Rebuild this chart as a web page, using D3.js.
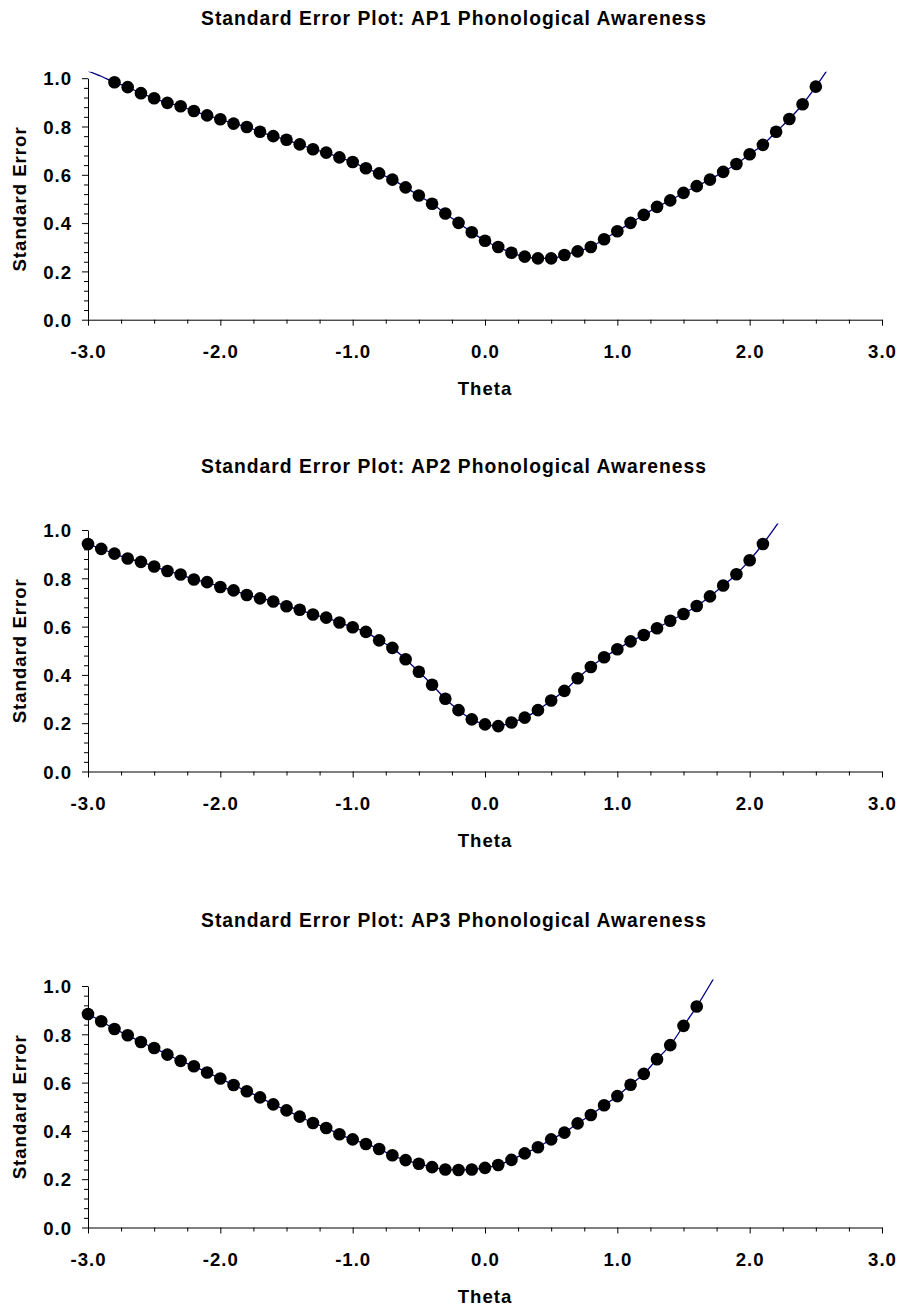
<!DOCTYPE html>
<html>
<head>
<meta charset="utf-8">
<script src="https://cdn.jsdelivr.net/npm/d3@7"></script>
<style>
  body { margin: 0; background: #fff; }
  svg text { font-family: "Liberation Sans", Arial, sans-serif; font-weight: bold; fill: #000; }
</style>
</head>
<body>
<div id="container"></div>
<script>
//data
const theta = [-3.0, -2.9, -2.8, -2.7, -2.6, -2.5, -2.4, -2.3, -2.2, -2.1,
    -2.0, -1.9, -1.8, -1.7, -1.6, -1.5, -1.4, -1.3, -1.2, -1.1,
    -1.0, -0.9, -0.8, -0.7, -0.6, -0.5, -0.4, -0.3, -0.2, -0.1,
    0.0, 0.1, 0.2, 0.3, 0.4, 0.5, 0.6, 0.7, 0.8, 0.9,
    1.0, 1.1, 1.2, 1.3, 1.4, 1.5, 1.6, 1.7, 1.8, 1.9,
    2.0, 2.1, 2.2, 2.3, 2.4, 2.5, 2.6]

const seAP1 = [1.030, 1.008, 0.983, 0.963, 0.938, 0.917, 0.898, 0.884, 0.864, 0.846,
    0.830, 0.812, 0.798, 0.778, 0.760, 0.745, 0.726, 0.706, 0.692, 0.672,
    0.653, 0.627, 0.606, 0.580, 0.548, 0.514, 0.480, 0.440, 0.401, 0.362,
    0.327, 0.301, 0.277, 0.261, 0.254, 0.254, 0.268, 0.283, 0.301, 0.333,
    0.366, 0.401, 0.434, 0.467, 0.494, 0.525, 0.553, 0.580, 0.612, 0.645,
    0.685, 0.724, 0.778, 0.831, 0.892, 0.965, 1.045]

const seAP2 = [0.942, 0.922, 0.902, 0.882, 0.868, 0.849, 0.830, 0.816, 0.795, 0.784,
    0.764, 0.750, 0.731, 0.717, 0.704, 0.684, 0.670, 0.650, 0.637, 0.617,
    0.597, 0.578, 0.543, 0.512, 0.465, 0.413, 0.359, 0.301, 0.254, 0.216,
    0.195, 0.188, 0.203, 0.223, 0.254, 0.294, 0.334, 0.386, 0.433, 0.473,
    0.506, 0.539, 0.565, 0.593, 0.624, 0.652, 0.685, 0.725, 0.770, 0.817,
    0.875, 0.942, 1.017, 1.100]

const seAP3 = [0.884, 0.854, 0.822, 0.796, 0.768, 0.743, 0.716, 0.690, 0.668, 0.642,
    0.617, 0.590, 0.564, 0.539, 0.510, 0.485, 0.459, 0.433, 0.412, 0.386,
    0.365, 0.346, 0.325, 0.299, 0.279, 0.264, 0.250, 0.240, 0.238, 0.240,
    0.247, 0.259, 0.280, 0.307, 0.332, 0.365, 0.393, 0.431, 0.466, 0.506,
    0.544, 0.591, 0.636, 0.697, 0.755, 0.835, 0.915, 1.005, 1.100]

const panelTitles = ["Standard Error Plot: AP1 Phonological Awareness",
    "Standard Error Plot: AP2 Phonological Awareness",
    "Standard Error Plot: AP3 Phonological Awareness"]
const panelSeries = [seAP1, seAP2, seAP3]

const xTicks = [-3, -2, -1, 0, 1, 2, 3]
const yTicks = [0, 0.2, 0.4, 0.6, 0.8, 1.0]
const xLabel = "Theta"
const yLabel = "Standard Error"

//layout
const width = 901, height = 1310
const left = 88, right = 882, plotH = 241.5
const panelTops = [78.2, 530, 986]
const titleBase = [24.5, 473, 927]

const svg = d3.select("#container")
    .append("svg")
    .attr("width", width)
    .attr("height", height)
    .attr("viewBox", [0, 0, width, height])

const x = d3.scaleLinear().domain([-3, 3]).range([left, right])
const y = d3.scaleLinear().domain([0, 1]).range([plotH, 0])
const fmt = d => d.toFixed(1)   // plain hyphen, not d3's unicode minus

const xMinor = d3.range(-3, 3.001, 0.25).filter(v => Math.abs(v - Math.round(v)) > 1e-6)
const yMinor = d3.range(0, 1.001, 0.04).filter(v => Math.abs(v * 5 - Math.round(v * 5)) > 1e-6)

function drawPanel(i){
    const g = svg.append("g")
        .attr("class", "panel")
        .attr("transform", `translate(0,${panelTops[i]})`)

    const rows = panelSeries[i].map((v, k) => ({t: theta[k], se: v}))

    svg.append("text")
        .attr("x", 454)
        .attr("y", titleBase[i])
        .attr("text-anchor", "middle")
        .style("font-size", "19.3px")
        .style("letter-spacing", "1px")
        .text(panelTitles[i])

    g.append("clipPath")
        .attr("id", "clip" + i)
        .append("rect")
        .attr("x", left)
        .attr("y", -6.5)
        .attr("width", right - left)
        .attr("height", plotH + 6.5)

    //minor ticks first, majors drawn on top
    g.append("g")
        .attr("transform", `translate(0,${plotH})`)
        .call(d3.axisBottom(x).tickValues(xMinor).tickSize(4).tickFormat(""))
        .call(a => a.select(".domain").remove())
    g.append("g")
        .attr("transform", `translate(${left},0)`)
        .call(d3.axisLeft(y).tickValues(yMinor).tickSize(4).tickFormat(""))
        .call(a => a.select(".domain").remove())

    const xAxis = g.append("g")
        .attr("transform", `translate(0,${plotH})`)
        .call(d3.axisBottom(x).tickValues(xTicks).tickSize(6).tickSizeOuter(0)
            .tickPadding(19.5).tickFormat(fmt))
    const yAxis = g.append("g")
        .attr("transform", `translate(${left},0)`)
        .call(d3.axisLeft(y).tickValues(yTicks).tickSize(6).tickSizeOuter(0)
            .tickPadding(10).tickFormat(fmt))

    g.selectAll(".tick line").attr("stroke", "#000")
    g.selectAll(".domain").attr("stroke", "#000")
    xAxis.selectAll("text").style("font-size", "18.6px").style("letter-spacing", "1px")
        .attr("font-family", null).attr("fill", null)
    yAxis.selectAll("text").style("font-size", "18.6px").style("letter-spacing", "1px")
        .attr("font-family", null).attr("fill", null).attr("dy", "0.36em")

    g.append("text")
        .attr("x", (left + right) / 2)
        .attr("y", plotH + 75)
        .attr("text-anchor", "middle")
        .style("font-size", "18.6px")
        .style("letter-spacing", "1px")
        .text(xLabel)

    g.append("text")
        .attr("transform", `translate(26,${plotH / 2}) rotate(-90)`)
        .attr("text-anchor", "middle")
        .style("font-size", "18.6px")
        .style("letter-spacing", "1px")
        .text(yLabel)

    const line = d3.line()
        .x(d => x(d.t))
        .y(d => y(d.se))
        .curve(d3.curveMonotoneX)

    g.append("path")
        .datum(rows)
        .attr("clip-path", `url(#clip${i})`)
        .attr("fill", "none")
        .attr("stroke", "#000080")
        .attr("stroke-width", 1.3)
        .attr("d", line)

    g.append("g")
        .selectAll("circle")
        .data(rows.filter(d => d.se < 1))
        .join("circle")
        .attr("cx", d => x(d.t))
        .attr("cy", d => y(d.se))
        .attr("r", 6.3)
        .attr("fill", "#000")
}

panelSeries.forEach((s, i) => drawPanel(i))
</script>
</body>
</html>
